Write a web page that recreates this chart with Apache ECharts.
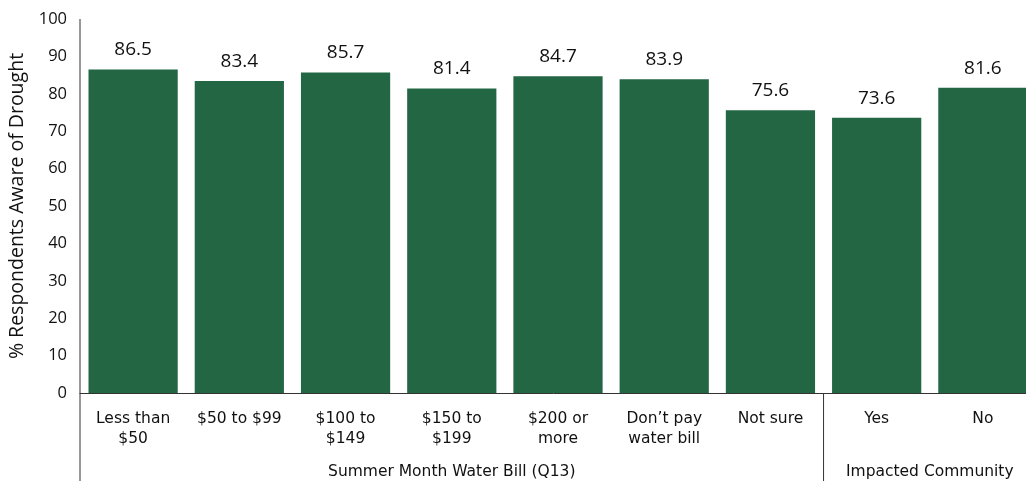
<!DOCTYPE html>
<html><head><meta charset="utf-8">
<script src="https://cdn.jsdelivr.net/npm/echarts@6/dist/echarts.min.js"></script>
<style>html,body{margin:0;padding:0;background:#fff}#c{width:1026px;height:481px}</style>
</head><body><div id="c"></div>
<script>
var categories = ["Less than\n$50", "$50 to $99", "$100 to\n$149", "$150 to\n$199", "$200 or\nmore", "Don\u2019t pay\nwater bill", "Not sure", "Yes", "No"];
var values = [86.5, 83.4, 85.7, 81.4, 84.7, 83.9, 75.6, 73.6, 81.6];
var groups = [
  {name: "Summer Month Water Bill (Q13)", from: 0, to: 6},
  {name: "Impacted Community", from: 7, to: 8}
];
var yTicks = {min: 0, max: 100, interval: 10};
var FONT = "Open Sans";
var XFONT = "DejaVu Sans";
var chart = echarts.init(document.getElementById('c'));
var option = {
  animation: false,
  textStyle: {fontFamily: FONT},
  grid: {left: 80, width: 956, top: 19, bottom: 88, containLabel: false, outerBoundsMode: 'none'},
  xAxis: {
    type: 'category', data: categories,
    axisLine: {lineStyle: {color: '#333', width: 1}},
    axisTick: {show: false},
    axisLabel: {color: '#111', fontSize: 15.5, fontFamily: XFONT, margin: 16, lineHeight: 20, interval: 0}
  },
  yAxis: {
    type: 'value', min: yTicks.min, max: yTicks.max, interval: yTicks.interval,
    name: '% Respondents Aware of Drought', nameLocation: 'middle', nameGap: 50,
    nameTextStyle: {color: '#111', fontSize: 19.5, fontFamily: FONT},
    axisLine: {show: false},
    axisTick: {show: false},
    splitLine: {show: false},
    axisLabel: {color: '#111', fontSize: 16.5, fontFamily: FONT, margin: 13}
  },
  series: [{
    type: 'bar', data: values, barCategoryGap: '16%',
    itemStyle: {color: '#236644', borderWidth: 0},
    label: {show: true, position: 'top', distance: 10, color: '#111', fontSize: 19, fontFamily: FONT}
  }]
};
chart.setOption(option);
function drawExtras() {
  var H = 481;
  var x0 = chart.convertToPixel({xAxisIndex: 0}, 0);
  var x1 = chart.convertToPixel({xAxisIndex: 0}, 1);
  var step = x1 - x0;
  var yTop = chart.convertToPixel({yAxisIndex: 0}, yTicks.max);
  var yZero = chart.convertToPixel({yAxisIndex: 0}, 0);
  var left = x0 - step / 2;
  var els = [{type: 'line', shape: {x1: left, y1: yTop, x2: left, y2: H}, style: {stroke: '#333', lineWidth: 1}}];
  groups.forEach(function (g, i) {
    var gl = chart.convertToPixel({xAxisIndex: 0}, g.from) - step / 2;
    var gr = chart.convertToPixel({xAxisIndex: 0}, g.to) + step / 2;
    if (i > 0) els.push({type: 'line', shape: {x1: gl, y1: yZero, x2: gl, y2: H}, style: {stroke: '#333', lineWidth: 1}});
    els.push({type: 'text', x: (gl + gr) / 2, y: 472, style: {text: g.name, textAlign: 'center', textVerticalAlign: 'middle', fill: '#111', font: '15.5px "' + XFONT + '"'}});
  });
  chart.setOption({graphic: els});
}
drawExtras();
</script></body></html>
